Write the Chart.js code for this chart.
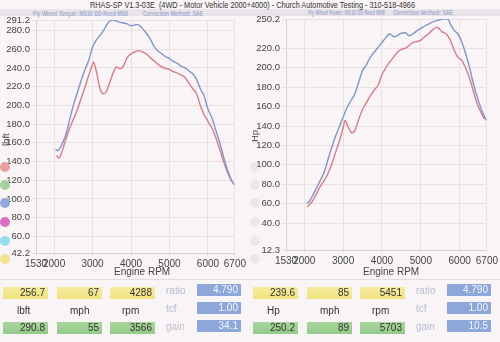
<!DOCTYPE html>
<html>
<head>
<meta charset="utf-8">
<script src="https://cdn.jsdelivr.net/npm/chart.js@4.4.0/dist/chart.umd.min.js"></script>
<style>
  body { margin: 0; width: 500px; height: 342px; position: relative; overflow: hidden;
         background: #f9f4f5; font-family: "Liberation Sans", Arial, sans-serif; }
  .abs { position: absolute; white-space: nowrap; }
  #title { left: 90px; top: 0px; font-size: 8.5px; color: #333; transform: scaleX(0.86); transform-origin: left top; }
  #band { left: 0; top: 9px; width: 500px; height: 7px; background: #e8e4e9; }
  .sub { top: 8.5px; font-size: 6.5px; font-weight: bold; color: #a3add0; transform: scaleX(0.8); transform-origin: left top; }
  .ytitle { font-size: 9.5px; color: #444; transform: rotate(-90deg); transform-origin: left top; }
  .xtitle { top: 266px; font-size: 10px; color: #444; }
  .dot { position: absolute; width: 10px; height: 10px; border-radius: 50%; }
  .box { position: absolute; height: 12px; font-size: 10px; line-height: 12px; text-align: right;
         padding-right: 3px; box-sizing: border-box; color: #333; }
  .yel { background: linear-gradient(#f6ec9e, #f1e27f); }
  .grn { background: linear-gradient(#a8d79c, #94c98a); }
  .blu { background: #8ea7da; color: #f4f6ff; }
  .lbl { position: absolute; font-size: 10px; color: #333; }
  .glbl { position: absolute; font-size: 10px; color: #b9bdd2; }
  canvas { position: absolute; }
</style>
</head>
<body>
<div id="band" class="abs"></div>
<div id="title" class="abs">RHAS-SP V1.3-03E &nbsp;(4WD - Motor Vehicle 2000+4000) - Church Automotive Testing - 310-518-4966</div>
<div class="abs sub" style="left:33px;top:9.5px">Fly Wheel Torque: MS10 DD Reed MS6</div>
<div class="abs sub" style="left:143px;top:9.5px">Correction Method: SAE</div>
<div class="abs sub" style="left:308px;transform:scaleX(0.66)">Fly Wheel Power: MS10 DD Reed MS6</div>
<div class="abs sub" style="left:393px">Correction Method: SAE</div>

<canvas id="torqueChart" style="left:0;top:0" width="248" height="280"></canvas>
<canvas id="powerChart" style="left:250px;top:0" width="250" height="280"></canvas>

<div class="abs ytitle" style="left:0px;top:146px">lbft</div>
<div class="abs ytitle" style="left:249px;top:142px">Hp</div>
<div class="abs xtitle" style="left:114px">Engine RPM</div>
<div class="abs xtitle" style="left:363px">Engine RPM</div>
<div style="position:absolute;left:0;top:279px;width:500px;height:1px;background:#e4dcdc"></div>

<script>
// x axis (Engine RPM)
const rpmTicks = [1530, 2000, 3000, 4000, 5000, 6000, 6700];
const torqueTicks = [42.2, 60, 80, 100, 120, 140, 160, 180, 200, 220, 240, 260, 280, 291.2];
const powerTicks = [12.3, 40, 60, 80, 100, 120, 140, 160, 180, 200, 220, 250.2];

// torque, blue run
const tqBlueRpm = [2040, 2100, 2200, 2300, 2400, 2500, 2600, 2700, 2800, 2900, 3000, 3100, 3200, 3300, 3400, 3500, 3566, 3700, 3800, 3900, 4000, 4100, 4200, 4300, 4400, 4500, 4600, 4700, 4800, 4900, 5000, 5100, 5200, 5300, 5400, 5500, 5600, 5700, 5800, 5900, 6000, 6100, 6200, 6300, 6400, 6500, 6600, 6680];
const tqBlue = [153, 151.5, 158, 168, 184, 200, 213, 226, 238, 248, 262, 270, 275, 281, 288, 291, 290.8, 289, 288, 287, 285, 286, 286, 282, 277, 271, 263, 258, 255, 252, 250, 247, 245, 242, 240, 237, 234, 228, 218, 210, 196, 187, 174, 161, 146, 132, 121, 115];
// torque, red run
const tqRedRpm = [2060, 2130, 2200, 2300, 2400, 2500, 2600, 2700, 2800, 2900, 3000, 3030, 3100, 3200, 3270, 3350, 3450, 3550, 3620, 3720, 3800, 3900, 4000, 4100, 4200, 4288, 4400, 4500, 4600, 4700, 4800, 4900, 5000, 5100, 5200, 5300, 5400, 5500, 5600, 5700, 5800, 5900, 6000, 6100, 6200, 6300, 6400, 6500, 6600, 6650];
const tqRed = [146.5, 143.7, 150, 163, 175, 185, 195, 207, 219, 232, 244, 246, 236, 217, 212.5, 214, 225, 236, 241, 239, 242, 251, 255, 257, 258.5, 257.5, 255, 251, 247.5, 244, 241, 239.5, 238.5, 236, 234.5, 232.5, 230, 224, 218, 213, 200, 190, 183, 176, 166, 154, 141, 129, 120, 117];

// power, blue run
const hpBlueRpm = [2060, 2100, 2200, 2300, 2400, 2500, 2600, 2700, 2800, 2900, 3000, 3100, 3200, 3300, 3400, 3500, 3600, 3700, 3800, 3900, 4000, 4100, 4200, 4300, 4400, 4460, 4600, 4700, 4800, 4900, 5000, 5100, 5200, 5300, 5400, 5500, 5600, 5700, 5760, 5850, 5950, 6050, 6150, 6250, 6350, 6450, 6550, 6680];
const hpBlue = [60.5, 61, 67, 75, 83, 91, 104, 117, 129, 139, 149, 159, 166, 173, 185, 197, 203, 211, 216, 221, 226, 231, 235, 232, 233, 235, 236, 233, 235, 238, 240.5, 243, 245, 247, 248.5, 249.5, 250.5, 250.2, 245, 239, 235, 227, 215, 201, 184, 170, 158, 146];
// power, red run
const hpRedRpm = [2070, 2100, 2200, 2300, 2400, 2500, 2600, 2700, 2800, 2900, 3000, 3050, 3130, 3220, 3300, 3400, 3500, 3600, 3700, 3800, 3900, 4000, 4100, 4200, 4300, 4400, 4500, 4600, 4700, 4800, 4900, 5000, 5100, 5200, 5300, 5400, 5450, 5550, 5650, 5750, 5850, 5950, 6050, 6150, 6250, 6350, 6450, 6550, 6640];
const hpRed = [57, 57.5, 62, 69, 77, 83, 90, 100, 112, 124, 138, 145.7, 139, 133, 135, 147, 157, 164, 171, 177, 182, 193, 200, 206, 211, 216, 219, 220, 223, 226, 227, 228.5, 232, 235, 239, 241.5, 241, 237, 235, 229, 219, 211, 208, 200, 190, 176, 163, 154, 147];

// summary table
const tqRow1 = ['256.7', '67', '4288'];
const tqRow2 = ['290.8', '55', '3566'];
const tqUnits = ['lbft', 'mph', 'rpm'];
const tqSide = ['4.790', '1.00', '34.1'];
const hpRow1 = ['239.6', '85', '5451'];
const hpRow2 = ['250.2', '89', '5703'];
const hpUnits = ['Hp', 'mph', 'rpm'];
const hpSide = ['4.790', '1.00', '10.5'];
const sideNames = ['ratio', 'tcf', 'gain'];

const dotColors = ['#e9a0a2', '#a2d2a0', '#8fa9dc', '#d96fbe', '#94dcf2', '#f3e293'];

function pts(xs, ys) {
  return xs.map((x, i) => ({ x: x, y: ys[i] }));
}

function makeChart(id, blueX, blueY, redX, redY, yTicks, yMin, yMax, pad, xHeight) {
  const ctx = document.getElementById(id);
  return new Chart(ctx, {
    type: 'line',
    data: {
      datasets: [
        { data: pts(blueX, blueY), borderColor: '#7f97cc', borderWidth: 1.4, pointRadius: 0, tension: 0.3 },
        { data: pts(redX, redY), borderColor: '#db7b84', borderWidth: 1.4, pointRadius: 0, tension: 0.3 }
      ]
    },
    options: {
      responsive: false,
      animation: false,
      layout: { padding: pad },
      plugins: { legend: { display: false }, tooltip: { enabled: false } },
      scales: {
        x: {
          type: 'linear', min: 1530, max: 6700,
          afterBuildTicks: s => { s.ticks = rpmTicks.map(v => ({ value: v })); },
          afterFit: s => { s.height = xHeight; },
          ticks: { autoSkip: false, maxRotation: 0, color: '#444', padding: 2,
                   font: { size: 10, family: 'Liberation Sans' }, callback: v => String(v) },
          grid: { color: '#ebe0e2', tickLength: 3 },
          border: { color: '#d8d0d2' }
        },
        y: {
          min: yMin, max: yMax,
          afterBuildTicks: s => { s.ticks = yTicks.map(v => ({ value: v })); },
          afterFit: s => { s.width = 36; },
          ticks: { autoSkip: false, color: '#444', padding: 2,
                   font: { size: 9.5, family: 'Liberation Sans' }, callback: v => v.toFixed(1) },
          grid: { color: '#ebe0e2', tickLength: 4 },
          border: { color: '#d8d0d2' }
        }
      }
    }
  });
}

makeChart('torqueChart', tqBlueRpm, tqBlue, tqRedRpm, tqRed, torqueTicks, 42.2, 291.2,
  { top: 20, right: 11, left: 0, bottom: 0 }, 27);
makeChart('powerChart', hpBlueRpm, hpBlue, hpRedRpm, hpRed, powerTicks, 12.3, 250.2,
  { top: 19, right: 13, left: 0, bottom: 0 }, 30);

// legend dots
const dotY = [162, 180, 198, 217, 236, 254];
dotY.forEach((y, i) => {
  const d = document.createElement('div');
  d.className = 'dot';
  d.style.left = '0px'; d.style.top = y + 'px';
  d.style.background = dotColors[i];
  document.body.appendChild(d);
  const g = document.createElement('div');
  g.className = 'dot';
  g.style.left = '250px'; g.style.top = y + 'px';
  g.style.background = 'rgba(200,195,200,0.25)';
  document.body.appendChild(g);
});

// summary boxes
function addBox(cls, x, y, w, text) {
  const b = document.createElement('div');
  b.className = 'box ' + cls;
  b.style.left = x + 'px'; b.style.top = y + 'px'; b.style.width = w + 'px';
  b.textContent = text;
  document.body.appendChild(b);
}
function addLabel(cls, x, y, text) {
  const l = document.createElement('div');
  l.className = cls;
  l.style.left = x + 'px'; l.style.top = y + 'px';
  l.textContent = text;
  document.body.appendChild(l);
}
function buildTable(ox, row1, row2, units, side) {
  const bx = [3, 57, 110];
  const bw = [45, 45, 45];
  row1.forEach((t, i) => addBox('yel', ox + bx[i], 287, bw[i], t));
  row2.forEach((t, i) => addBox('grn', ox + bx[i], 322, bw[i], t));
  const ux = [17, 70, 122];
  units.forEach((t, i) => addLabel('lbl', ox + ux[i], 305, t));
  const sy = [284, 302, 320];
  side.forEach((t, i) => {
    addLabel('glbl', ox + 166, sy[i] + 1, sideNames[i]);
    addBox('blu', ox + 197, sy[i], 44, t);
  });
}
buildTable(0, tqRow1, tqRow2, tqUnits, tqSide);
buildTable(250, hpRow1, hpRow2, hpUnits, hpSide);
</script>
</body>
</html>
